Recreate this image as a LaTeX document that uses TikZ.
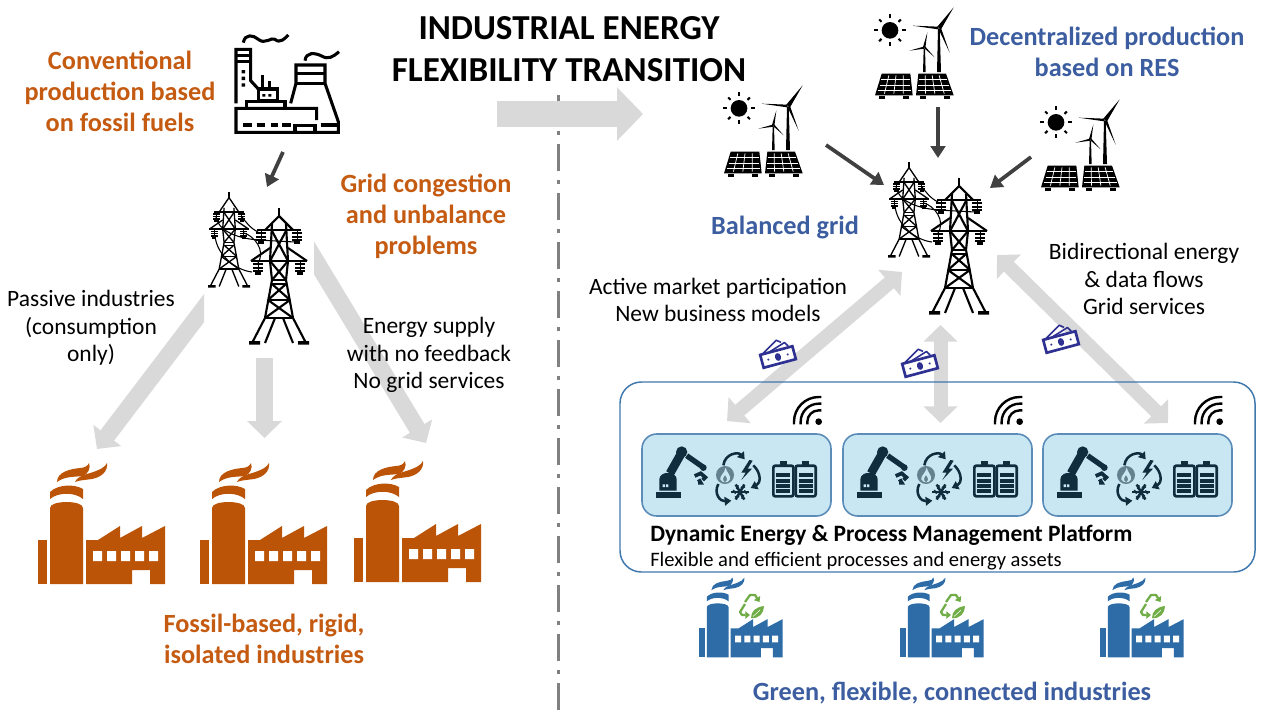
\documentclass[tikz,border=0pt]{standalone}
\usepackage{fontspec}
\setmainfont{Carlito}
\usetikzlibrary{arrows.meta}
\definecolor{orng}{HTML}{C55A11}
\definecolor{factO}{HTML}{BC5408}
\definecolor{blu}{HTML}{3C5EA0}
\definecolor{factB}{HTML}{2E6CA8}
\definecolor{grayA}{HTML}{D9D9D9}
\definecolor{darkA}{HTML}{404040}
\definecolor{boxF}{HTML}{C9E7F3}
\definecolor{boxL}{HTML}{5B8DB8}
\definecolor{platL}{HTML}{3F78AD}
\definecolor{ink}{HTML}{0F2D3D}
\definecolor{money}{HTML}{2E3192}
\definecolor{leaf}{HTML}{70AD47}
\tikzset{
 x=0.75pt,y=-0.75pt,
 big/.style={font=\fontsize{26.3}{31.5}\selectfont\bfseries,align=center,text=black,inner sep=0pt},
 headO/.style={font=\fontsize{19.7}{23.3}\selectfont\bfseries,align=center,text=orng,inner sep=0pt},
 headB/.style={font=\fontsize{19.7}{23.3}\selectfont\bfseries,align=center,text=blu,inner sep=0pt},
 plain/.style={font=\fontsize{17.6}{20.7}\selectfont,align=center,text=black,inner sep=0pt},
 blockS/.style={draw=grayA,line width=12.75pt,-{Triangle[length=12.75pt,width=25.5pt]}},
 blockD/.style={draw=grayA,line width=10.5pt,{Triangle[length=12.5pt,width=25pt]}-{Triangle[length=12.5pt,width=25pt]}},
 small/.style={draw=darkA,line width=2.8pt,-{Triangle[length=9pt,width=11pt]}},
 ic/.style={draw=black,line width=2.3pt,line cap=butt,line join=miter},
}
% ---------------- factory
\newcommand{\factory}[1]{%
 \fill[#1] (18,90) rectangle (27,134);
 \fill[#1] (30,134) -- (30,58) .. controls (30,50) and (63,50) .. (63,58) -- (63,134) -- cycle;
 \fill[#1] (30,42) .. controls (38,34) and (55,34) .. (63,39) -- (63,49) .. controls (55,42) and (38,42) .. (30,49) -- cycle;
 \fill[#1] (37,32) .. controls (37,22) and (50,19) .. (60,18) .. controls (64,18) and (68,16) .. (69,13) .. controls (71,18) and (68,24) .. (63,26) .. controls (55,27) and (45,26) .. (37,32) -- cycle;
 \fill[#1] (55,32) .. controls (58,25) and (69,24) .. (76,21) .. controls (81,19) and (85,17) .. (87,13) .. controls (88,21) and (82,27) .. (72,29) .. controls (65,30) and (60,30) .. (55,32) -- cycle;
 \fill[#1] (66,134) -- (66,90) -- (78,90) -- (100,76) -- (100,88) -- (122,76) -- (122,88) -- (145,76) -- (145,134) -- (130,134) -- (130,120) -- (112,120) -- (112,134) -- cycle;
 \fill[white] (73,101) rectangle (82,111) (87,101) rectangle (96,111) (101,101) rectangle (110,111) (115,101) rectangle (124,111) (129,101) rectangle (138,111);
}
% ---------------- recycling sign and leaf
\newcommand{\recyc}{%
 \draw[leaf,line width=1.7pt,line join=round,-{Triangle[length=3.5pt,width=5.5pt]}] (65,32) -- (70,25) -- (75,25) -- (79.5,32);
 \draw[leaf,line width=1.7pt,line join=round,-{Triangle[length=3.5pt,width=5.5pt]}] (65,34) -- (60,42) -- (62,45) -- (70,45);
 \fill[leaf] (71,48) .. controls (71,41) and (76,37) .. (84,36) .. controls (84,43) and (79,49) .. (71,48) -- cycle;
 \draw[white,line width=.4pt] (73,46.5) -- (80,40);
}
% ---------------- pylon: origin at the tip of the spike; #2 = level of the upper arm
\newcommand{\pylon}[2]{%
 \begin{scope}[draw=black,line width=#1,line join=miter]
 \draw (0,0) -- (0,9);
 \draw (-22,#2) -- (22,#2) (-28,53) -- (28,53);
 \draw (-14,#2) -- (0,8) -- (14,#2);
 \draw (-28,53) -- (-9,40) (28,53) -- (9,40);
 \draw (-7,#2-6) -- (-9,53) -- (-7,72) -- (-14,110) -- (-27,135);
 \draw (7,#2-6) -- (9,53) -- (7,72) -- (14,110) -- (27,135);
 \draw (-4,110) -- (-14,135) (4,110) -- (14,135);
 \draw (-14,110) -- (14,110) (-7,72) -- (7,72) (-7,76) -- (7,76) (-11,92) -- (11,92);
 \draw (-7.5,#2) -- (9,53) (7.5,#2) -- (-9,53) (-9,53) -- (7,72) (9,53) -- (-7,72);
 \draw (-7,76) -- (11,92) (7,76) -- (-11,92) (-11,92) -- (14,110) (11,92) -- (-14,110);
 \end{scope}
 \fill[black] (-30,133) rectangle (-19,136.5) (19,133) rectangle (30,136.5);
 \foreach \ix/\iy in {-18/#2,18/#2,-21/53,21/53}{
  \draw[black,line width=.6pt] (\ix,\iy) -- (\ix,\iy+10);
  \fill[black] (\ix-5,\iy+2) rectangle (\ix+5,\iy+4.2);
  \fill[black] (\ix-5,\iy+5.5) rectangle (\ix+5,\iy+7.7);
  \fill[black] (\ix-5,\iy+9) rectangle (\ix+5,\iy+11);
  \fill[black] (\ix-3,\iy+11) rectangle (\ix+3,\iy+14);
 }
}
\newcommand{\pylons}{%
 \begin{scope}[shift={(39,12)},scale=.7]\pylon{1pt}{28.6}\end{scope}
 \begin{scope}[shift={(89,28)}]\pylon{1.6pt}{22}\end{scope}
 \draw[black,line width=.8pt] (52,37) .. controls (56,42) and (60,48) .. (68,52);
 \draw[black,line width=.8pt] (26,37) .. controls (28,50) and (45,58) .. (68,60) -- (105,62);
 \draw[black,line width=.8pt] (54,53) .. controls (64,56) and (76,70) .. (68,83);
 \draw[black,line width=.8pt] (25,56) .. controls (27,75) and (45,90) .. (62,92);
}
% ---------------- coal / power plant icon (drawn in 3x coordinates)
\newcommand{\plant}{%
 \begin{scope}[scale=1/3]
 \draw[ic] (130,68) .. controls (135,40) and (160,45) .. (175,58) .. controls (195,75) and (215,50) .. (225,58) .. controls (240,72) and (255,55) .. (265,45);
 \draw[ic] (315,122) .. controls (318,95) and (345,98) .. (365,108) .. controls (385,120) and (400,110) .. (417,95);
 \draw[ic] (108,250) -- (108,88) -- (152,88) -- (152,182) -- (175,207);
 \draw[ic] (108,106) -- (152,106) (108,125) -- (152,125);
 \fill[black] (125,150) rectangle (135,160) (125,170) rectangle (135,180) (125,190) rectangle (135,200);
 \draw[ic] (175,207) rectangle (232,242);
 \draw[ic] (187,165) -- (187,207) (209,183) -- (209,207);
 \fill[black] (187,222) rectangle (196,230) (205,222) rectangle (214,230);
 \draw[ic] (140,262) -- (140,245) -- (255,245) -- (255,262);
 \draw[ic] (350,300) -- (350,265) -- (108,265) -- (108,337) -- (415,337) -- (415,305) -- (375,190) -- (375,135) -- (288,135) -- (288,190) -- (272,250);
 \draw[ic] (288,160) -- (375,160) (288,190) -- (375,190);
 \draw[ic] (130,315) -- (155,315) (170,315) -- (195,315) (212,315) -- (235,315) (245,315) -- (272,315) (362,315) -- (415,315);
 \draw[ic] (285,337) -- (285,316) -- (345,316) -- (345,337);
 \end{scope}
}
% ---------------- sun + turbines + solar panels (3x coordinates)
\newcommand{\res}{%
 \begin{scope}[scale=1/3]
 \fill[black] (87,115) circle (25);
 \foreach \ax/\ay in {1/0,-1/0,0/1,0/-1}{\draw[black,line width=1.5pt] (87+\ax*36,115+\ay*36) -- (87+\ax*48,115+\ay*48);}
 \foreach \ax/\ay in {.707/.707,-.707/.707,.707/-.707,-.707/-.707}{\draw[black,line width=1.5pt] (87+\ax*36,115+\ay*36) -- (87+\ax*46,115+\ay*46);}
 % big turbine
 \fill[black] (228,240) -- (231,110) -- (236,110) -- (240,240) -- cycle;
 \fill[black] (229,104) -- (278,46) -- (240,112) -- cycle;
 \fill[black] (155,101) -- (232,104) -- (232,112) -- cycle;
 \fill[black] (232,110) -- (240,108) -- (266,182) -- cycle;
 % small turbine
 \fill[black] (186,240) -- (188,170) -- (192,170) -- (194,240) -- cycle;
 \fill[black] (186,165) -- (199,121) -- (193,168) -- cycle;
 \fill[black] (145,176) -- (188,164) -- (190,170) -- cycle;
 \fill[black] (189,168) -- (193,164) -- (221,196) -- cycle;
 % panels
 \foreach \pa/\pb/\pc/\pd in {62/148/155/42, 172/255/278/165}{
  \fill[black] (\pa,245) -- (\pb,245) -- (\pc,310) -- (\pd,310) -- cycle;
  \foreach \t in {.25,.5,.75}{
   \draw[white,line width=.55pt] ({\pa+\t*(\pb-\pa)},250) -- ({\pd+\t*(\pc-\pd)},305);
  }
  \foreach \t/\w in {.26/.28,.52/.28,.76/.28}{
   \draw[white,line width=.55pt] ({\pa+\t*(\pd-\pa)+4},{245+\t*65}) -- ({\pb+\t*(\pc-\pb)-4},{245+\t*65});
  }
  \fill[black] ({\pd+12},312) rectangle ({\pd+30},322);
  \fill[black] ({\pc-30},312) rectangle ({\pc-12},322);
 }
 \end{scope}
}
% ---------------- box with robot, flows, batteries, wifi (3x coordinates)
\newcommand{\wifiArc}[1]{ (566-#1,103) -- (566-#1,95) .. controls (566-#1,{95-.55*#1}) and ({566-.55*#1},95-#1) .. (566,95-#1) -- (574,95-#1) }
\newcommand{\assets}{%
 \draw[boxL,fill=boxF,line width=1.2pt,rounded corners=11pt] (12,44) rectangle (201,126);
 \begin{scope}[scale=1/3]
 % wifi
 \fill[black] (566,95) circle (10);
 \draw[black,line width=1.8pt] \wifiArc{34};
 \draw[black,line width=1.8pt] \wifiArc{54};
 \draw[black,line width=1.8pt] \wifiArc{74};
 % robot
 \fill[ink] (78,306) rectangle (153,324);
 \fill[ink] (88,302) -- (88,268) .. controls (88,242) and (140,242) .. (140,268) -- (140,302) -- cycle;
 \fill[boxF] (98,283) rectangle (105,291) (108,283) rectangle (115,291);
 \draw[ink,line width=6.5pt] (120,250) -- (155,188);
 \fill[ink] (155,186) circle (17);
 \draw[ink,line width=4pt] (170,197) -- (220,232);
 \fill[ink] (220,233) circle (10);
 \draw[ink,line width=2.8pt] (194,258) -- (212,250) -- (226,262) -- (218,270) (206,268) -- (212,278) -- (204,278);
 % flow arrows
 \fill[ink!55!boxF] (285,255) circle (27);
 \fill[boxF] (287,233) .. controls (290,248) and (303,255) .. (300,268) .. controls (296,280) and (276,280) .. (271,268) .. controls (268,258) and (284,250) .. (287,233) -- cycle;
 \fill[ink!55!boxF] (285,256) .. controls (291,264) and (294,270) .. (285,276) .. controls (276,270) and (279,264) .. (285,256) -- cycle;
 \fill[ink] (358,210) -- (334,248) -- (347,248) -- (334,270) -- (366,236) -- (353,236) -- (368,212) -- cycle;
 \foreach \a in {0,60,120}{\draw[ink,line width=1.9pt] (330,306) ++({-26*cos(\a)},{-26*sin(\a)}) -- ++({52*cos(\a)},{52*sin(\a)});}
 \foreach \a in {30,90,150,210,270,330}{\draw[ink,line width=1pt] (330,306) ++({18*cos(\a+30)+6*cos(\a+90)},{18*sin(\a+30)+6*sin(\a+90)}) -- ++({-6*cos(\a+90)-5*cos(\a+30)},{-6*sin(\a+90)-5*sin(\a+30)}) -- ++({-6*cos(\a+90)+5*cos(\a+30)},{-6*sin(\a+90)+5*sin(\a+30)});}
 \draw[ink,line width=1.9pt,-{Triangle[length=5pt,width=6.5pt]}] (280,226) .. controls (285,190) and (325,185) .. (344,208);
 \draw[ink,line width=1.9pt,-{Triangle[length=5pt,width=6.5pt]}] (370,226) .. controls (395,250) and (392,280) .. (362,294);
 \draw[ink,line width=1.9pt,-{Triangle[length=5pt,width=6.5pt]}] (265,282) .. controls (250,310) and (270,335) .. (304,332);
 % batteries
 \foreach \bx in {430,497}{
  \draw[ink,line width=2pt,rounded corners=1.5pt] (\bx,227) rectangle ++(60,92);
  \fill[ink] (\bx+19,212) rectangle ++(22,12);
  \foreach \by in {250,266,282,298}{\fill[ink] (\bx+9,\by) rectangle ++(42,12);}
 }
 \end{scope}
}
% ---------------- money
\newcommand{\cash}{%
 \begin{scope}[rotate=15,scale=1/3]
 \draw[money,line width=1.2pt,line join=round] (-42,-21) -- (8,-50) -- (20,-40);
 \draw[money,line width=1.2pt,line join=round] (-22,-21) -- (30,-37) -- (38,-24);
 \draw[money,line width=2pt,fill=white] (-50,-20) rectangle (50,20);
 \fill[money] (0,0) ellipse (9 and 12);
 \fill[money] (-30,0) circle (3.5) (30,0) circle (3.5);
 \end{scope}
}
\begin{document}
\begin{tikzpicture}
\useasboundingbox (0,0) rectangle (1280,722);
\fill[white] (0,0) rectangle (1280,722);

% anchor coordinates
\coordinate (bigA) at (497,114); \coordinate (bigB) at (643,114);
\coordinate (divT) at (558.5,95); \coordinate (divB) at (558.5,715);
\coordinate (gL) at (214,295); \coordinate (fL) at (97,449);
\coordinate (gM) at (264.5,358); \coordinate (fM) at (264.5,438);
\coordinate (gR) at (305,243); \coordinate (fR) at (426,443);
\coordinate (dL) at (902,272); \coordinate (pL) at (727,421);
\coordinate (dM) at (940.5,325); \coordinate (pM) at (940.5,423);
\coordinate (dR) at (997,255); \coordinate (pR) at (1168,423);
\coordinate (plantOut) at (283,152); \coordinate (gridIn) at (267,187);
\coordinate (res1) at (826,145); \coordinate (gr1) at (884,185);
\coordinate (res2) at (938,107); \coordinate (gr2) at (938,158);
\coordinate (res3) at (1031,157); \coordinate (gr3) at (990,188);

% divider
\draw[gray,line width=2.4pt,dash pattern=on 20.25pt off 6.75pt on 3pt off 6.75pt] (divT) -- (divB);

% grey arrows
\draw[draw=grayA,line width=19pt,-{Triangle[length=19.5pt,width=39pt]}] (bigA) -- (bigB);
\begin{scope}
 \clip (0,200) rectangle (204,500);
 \draw[blockS] (gL) -- (fL);
\end{scope}
\draw[blockS] (gM) -- (fM);
\begin{scope}
 \clip (314,200) rectangle (500,500);
 \draw[blockS] (gR) -- (fR);
\end{scope}
\draw[blockD] (dL) -- (pL);
\draw[blockD] (dM) -- (pM);
\draw[blockD] (dR) -- (pR);

% platform
\draw[platL,line width=1.1pt,rounded corners=16pt] (620,382) rectangle (1255,572);

% dark arrows
\draw[small] (plantOut) -- (gridIn);
\draw[small] (res1) -- (gr1);
\draw[small] (res2) -- (gr2);
\draw[small] (res3) -- (gr3);

% icons
\begin{scope}[shift={(200,20)}]\plant\end{scope}
\begin{scope}[shift={(190,180)}]\pylons\end{scope}
\begin{scope}[shift={(870,150)}]\pylons\end{scope}
\begin{scope}[shift={(710,70)}]\res\end{scope}
\begin{scope}[shift={(861,-8)}]\res\end{scope}
\begin{scope}[shift={(1027,84)}]\res\end{scope}
\begin{scope}[shift={(20,450)}]\factory{factO}\end{scope}
\begin{scope}[shift={(182,450)}]\factory{factO}\end{scope}
\begin{scope}[shift={(336,448)}]\factory{factO}\end{scope}
\foreach \fx in {687,888,1088}{
 \begin{scope}[shift={(\fx,569)},scale=.66]\factory{factB}\end{scope}
 \begin{scope}[shift={(\fx-7,570)}]\recyc\end{scope}
}
\begin{scope}[shift={(630,390)}]\assets\end{scope}
\begin{scope}[shift={(831,390)}]\assets\end{scope}
\begin{scope}[shift={(1031,390)}]\assets\end{scope}
\begin{scope}[shift={(778,357)}]\cash\end{scope}
\begin{scope}[shift={(920,366)}]\cash\end{scope}
\begin{scope}[shift={(1061,342)}]\cash\end{scope}

% texts
\node[big] (title) at (569,49) {INDUSTRIAL ENERGY\\FLEXIBILITY TRANSITION};
\node[headO] (conv) at (120,91) {Conventional\\production based\\on fossil fuels};
\node[headO] (cong) at (426,216) {Grid congestion\\and unbalance\\problems};
\node[headO] (fossil) at (264,639) {Fossil-based, rigid,\\isolated industries};
\node[headB] (dec) at (1107,52) {Decentralized production\\based on RES};
\node[headB] (bal) at (785,228) {Balanced grid};
\node[headB] (green) at (952,693) {Green, flexible, connected industries};
\node[plain] (pass) at (91,328) {Passive industries\\(consumption\\only)};
\node[plain] (supply) at (429,355) {Energy supply\\with no feedback\\No grid services};
\node[plain] (market) at (718,300) {Active market participation\\New business models};
\node[plain] (bidi) at (1144,279) {Bidirectional energy\\\& data flows\\Grid services};
\node[font=\fontsize{17.6}{20}\selectfont\bfseries,anchor=west,inner sep=0pt] (plat) at (650,535) {Dynamic Energy \& Process Management Platform};
\node[font=\fontsize{15.4}{16}\selectfont,anchor=west,inner sep=0pt] (platsub) at (650,561) {Flexible and efficient processes and energy assets};
\end{tikzpicture}
\end{document}
